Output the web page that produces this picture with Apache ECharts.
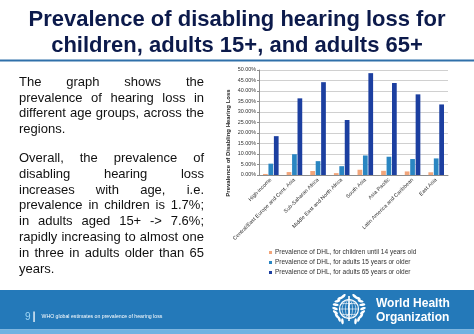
<!DOCTYPE html>
<html>
<head>
<meta charset="utf-8">
<script src="https://cdn.jsdelivr.net/npm/echarts@6/dist/echarts.min.js"></script>
<style>
  html, body { margin: 0; padding: 0; background: #ffffff; }
  #chart { width: 474px; height: 334px; }
</style>
</head>
<body>
<div id="chart"></div>
<script>
// Regions and prevalence of disabling hearing loss (percent)
const categories = [
  'High-income',
  'Central/East Europe and Cent. Asia',
  'Sub-Saharan Africa',
  'Middle East and North Africa',
  'South Asia',
  'Asia Pacific',
  'Latin America and Caribbean',
  'East Asia'
];
const childValues   = [0.5, 1.4, 1.9, 0.9, 2.5, 2.0, 1.7, 1.3];
const adult15Values = [5.4, 9.9, 6.6, 4.2, 9.3, 8.7, 7.6, 7.9];
const adult65Values = [18.5, 36.5, 44.2, 26.2, 48.5, 43.8, 38.4, 33.6];
const seriesNames = [
  'Prevalence of DHL, for children until 14 years old',
  'Prevalence of DHL, for adults 15 years or older',
  'Prevalence of DHL, for adults 65 years or older'
];
const yMin = 0, yMax = 50, yStep = 5;

const titleLines = [
  'Prevalence of disabling hearing loss for',
  'children, adults 15+, and adults 65+'
];
// Each paragraph: lines as broken on the slide; last line is left aligned
const paragraphs = [
  ['The graph shows the',
   'prevalence of hearing loss in',
   'different age groups, across the',
   'regions.'],
  ['Overall, the prevalence of',
   'disabling hearing loss',
   'increases with age, i.e.',
   'prevalence in children is 1.7%;',
   'in adults aged 15+ -> 7.6%;',
   'rapidly increasing to almost one',
   'in three in adults older than 65',
   'years.']
];

const FONT_FAMILY = '"Liberation Sans", Arial, Helvetica, sans-serif';
const bodyFont = '13px ' + FONT_FAMILY;

// measure helper for justified body text
const measureCtx = document.createElement('canvas').getContext('2d');
function textWidth(str, font) {
  measureCtx.font = font;
  return measureCtx.measureText(str).width;
}

function justifiedText(paras, left, right, firstBaselines, lineStep) {
  const out = [];
  paras.forEach(function (lines, pi) {
    lines.forEach(function (line, li) {
      const yMid = firstBaselines[pi] + li * lineStep - 4.3;
      const words = line.split(' ');
      const last = li === lines.length - 1;
      if (last || words.length < 2) {
        out.push({ type: 'text', silent: true,
          style: { text: line, x: left, y: yMid, font: bodyFont, fill: '#111111',
                   align: 'left', verticalAlign: 'middle' } });
        return;
      }
      const widths = words.map(function (w) { return textWidth(w, bodyFont); });
      const total = widths.reduce(function (a, b) { return a + b; }, 0);
      const gap = (right - left - total) / (words.length - 1);
      let x = left;
      words.forEach(function (w, wi) {
        out.push({ type: 'text', silent: true,
          style: { text: w, x: x, y: yMid, font: bodyFont, fill: '#111111',
                   align: 'left', verticalAlign: 'middle' } });
        x += widths[wi] + gap;
      });
    });
  });
  return out;
}

// WHO emblem: globe with staff inside a laurel wreath open at the top
function whoEmblem(cx, cy) {
  const els = [];
  const white = '#ffffff';
  els.push({ type: 'circle', silent: true, shape: { cx: cx, cy: cy, r: 9.5 },
    style: { fill: 'none', stroke: white, lineWidth: 1.2 } });
  [3.5, 6.8].forEach(function (rx) {
    els.push({ type: 'ellipse', silent: true, shape: { cx: cx, cy: cy, rx: rx, ry: 9.5 },
      style: { fill: 'none', stroke: white, lineWidth: 0.6 } });
  });
  [-5.5, 0, 5.5].forEach(function (dy) {
    const half = Math.sqrt(9.5 * 9.5 - dy * dy);
    els.push({ type: 'line', silent: true,
      shape: { x1: cx - half, y1: cy + dy, x2: cx + half, y2: cy + dy },
      style: { stroke: white, lineWidth: 0.6 } });
  });
  els.push({ type: 'line', silent: true,
    shape: { x1: cx, y1: cy - 13, x2: cx, y2: cy + 12 },
    style: { stroke: white, lineWidth: 1.6 } });
  els.push({ type: 'bezierCurve', silent: true,
    shape: { x1: cx - 2.5, y1: cy + 7, x2: cx + 2.5, y2: cy - 6,
             cpx1: cx + 5, cpy1: cy + 3, cpx2: cx - 5, cpy2: cy - 2 },
    style: { fill: 'none', stroke: white, lineWidth: 1 } });
  // wreath leaves, angle measured from the bottom of the emblem
  for (let side = -1; side <= 1; side += 2) {
    for (let i = 0; i < 9; i++) {
      const t = (28 + i * 16) * Math.PI / 180;
      const x = cx + side * Math.sin(t) * 14;
      const y = cy + Math.cos(t) * 14;
      els.push({ type: 'ellipse', silent: true,
        x: x, y: y, rotation: -side * t + side * 0.4,
        shape: { cx: 0, cy: 0, rx: 1.3, ry: 3 },
        style: { fill: white } });
    }
  }
  return els;
}

const chart = echarts.init(document.getElementById('chart'), null, { renderer: 'canvas' });

const graphics = [];
// Title
titleLines.forEach(function (t, i) {
  graphics.push({ type: 'text', silent: true,
    style: { text: t, x: 237, y: 19.8 + i * 26, font: 'bold 22px ' + FONT_FAMILY,
             fill: '#0c1a4b', align: 'center', verticalAlign: 'middle' } });
});
// Rule under title
graphics.push({ type: 'rect', silent: true, shape: { x: 0, y: 59.5, width: 474, height: 2 },
  style: { fill: '#2f70aa' } });
// Body text
Array.prototype.push.apply(graphics,
  justifiedText(paragraphs, 19, 204, [86.5, 162.7], 15.8));
// Axis title
graphics.push({ type: 'text', silent: true, x: 228.5, y: 143, rotation: Math.PI / 2,
  style: { text: 'Prevalence of Disabling Hearing Loss', x: 0, y: 0,
           font: 'bold 6px ' + FONT_FAMILY, fill: '#222222',
           align: 'center', verticalAlign: 'middle' } });
// Footer band
graphics.push({ type: 'rect', silent: true, shape: { x: 0, y: 290, width: 474, height: 39.5 },
  style: { fill: '#2479b9' } });
graphics.push({ type: 'rect', silent: true, shape: { x: 0, y: 329.5, width: 474, height: 4.5 },
  style: { fill: '#6fb2e2' } });
graphics.push({ type: 'text', silent: true,
  style: { text: '9', x: 25, y: 317, font: '10px ' + FONT_FAMILY, fill: '#9fd6f6',
           align: 'left', verticalAlign: 'middle' } });
graphics.push({ type: 'rect', silent: true, shape: { x: 33.4, y: 311.5, width: 1.3, height: 10.5 },
  style: { fill: '#ffffff' } });
graphics.push({ type: 'text', silent: true,
  style: { text: 'WHO global estimates on prevalence of hearing loss', x: 41.5, y: 317,
           font: '5.2px ' + FONT_FAMILY, fill: '#ffffff', align: 'left', verticalAlign: 'middle' } });
graphics.push({ type: 'text', silent: true,
  style: { text: 'World Health', x: 376, y: 303.5, font: 'bold 12px ' + FONT_FAMILY,
           fill: '#ffffff', align: 'left', verticalAlign: 'middle' } });
graphics.push({ type: 'text', silent: true,
  style: { text: 'Organization', x: 376, y: 318, font: 'bold 12px ' + FONT_FAMILY,
           fill: '#ffffff', align: 'left', verticalAlign: 'middle' } });
Array.prototype.push.apply(graphics, whoEmblem(349, 309));

const barColors = ['#f2a57a', '#2a86c2', '#1c3fa0'];
const seriesData = [childValues, adult15Values, adult65Values];

chart.setOption({
  animation: false,
  backgroundColor: '#ffffff',
  textStyle: { fontFamily: FONT_FAMILY },
  grid: { left: 259, right: 26, top: 70, bottom: 159, containLabel: false },
  legend: {
    orient: 'vertical',
    left: 264, top: 244,
    itemWidth: 3, itemHeight: 3, itemGap: 3,
    icon: 'rect',
    textStyle: { fontSize: 6.5, color: '#333333', padding: [0, 0, 0, -2] },
    data: seriesNames
  },
  xAxis: {
    type: 'category',
    data: categories,
    axisLine: { lineStyle: { color: '#8c8c8c', width: 1 } },
    axisTick: { show: false },
    axisLabel: { interval: 0, rotate: 45, fontSize: 5.4, color: '#333333', margin: 4 }
  },
  yAxis: {
    type: 'value',
    min: yMin, max: yMax, interval: yStep,
    axisLine: { show: true, lineStyle: { color: '#8c8c8c', width: 1 } },
    axisTick: { show: true, length: 2, lineStyle: { color: '#8c8c8c' } },
    splitLine: { lineStyle: { color: '#c4c4c4', width: 0.8 } },
    axisLabel: { fontSize: 5.4, color: '#333333', margin: 3,
                 formatter: function (v) { return v.toFixed(2) + '%'; } }
  },
  series: seriesNames.map(function (name, i) {
    return {
      name: name, type: 'bar', data: seriesData[i],
      itemStyle: { color: barColors[i] },
      barGap: '15%', barCategoryGap: '34%'
    };
  }),
  graphic: { elements: graphics }
});
</script>
</body>
</html>
